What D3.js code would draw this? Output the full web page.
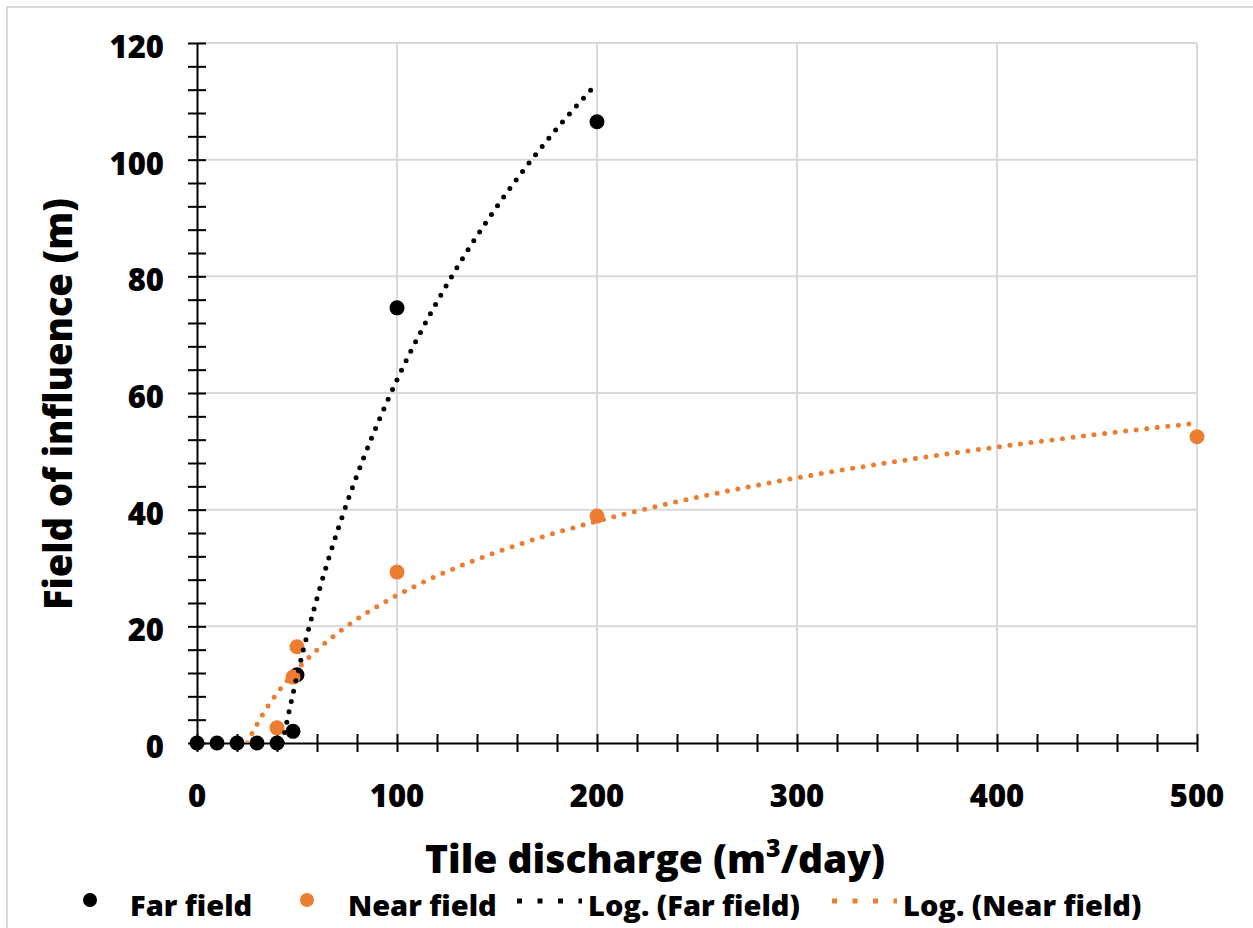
<!DOCTYPE html>
<html>
<head>
<meta charset="utf-8">
<script src="https://cdn.jsdelivr.net/npm/d3@7"></script>
<style>
  html, body { margin: 0; padding: 0; background: #fff; }
  svg { display: block; }
  text { font-family: "Open Sans", Lato, sans-serif; font-weight: 800; fill: #000; }
</style>
</head>
<body>
<svg id="chart" width="1253" height="928"></svg>
<script>
// ---- data ----
const farX  = [0, 10, 20, 30, 40, 48, 50, 100, 200];
const farY  = [0, 0, 0, 0, 0, 2.0, 11.7, 74.6, 106.5];
const nearX = [40, 48, 50, 100, 200, 500];
const nearY = [2.6, 11.3, 16.5, 29.3, 38.9, 52.5];
// logarithmic trendlines y = a*ln(x) + b (as fitted in the source chart)
const farTrend  = { a: 73.3, b: -275.3 };
const nearTrend = { a: 18.34, b: -59.15 };
const xTicks = [0, 100, 200, 300, 400, 500];
const yTicks = [0, 20, 40, 60, 80, 100, 120];
const legendLabels = ["Far field", "Near field", "Log. (Far field)", "Log. (Near field)"];
const xTitle = "Tile discharge (m";
const yTitle = "Field of influence (m)";

const farColor = "#000000", nearColor = "#ED7D31", gridColor = "#d9d9d9";

const svg = d3.select("#chart");
const x = d3.scaleLinear().domain([0, 500]).range([197, 1197]);
const y = d3.scaleLinear().domain([0, 120]).range([743, 43]);

// outer chart border
svg.append("rect").attr("x", 7).attr("y", 7).attr("width", 1260).attr("height", 940)
  .attr("fill", "none").attr("stroke", gridColor).attr("stroke-width", 2);

// gridlines
const grid = svg.append("g");
grid.selectAll("line.h").data(yTicks.filter(d => d > 0)).join("line")
  .attr("x1", x(0)).attr("x2", x(500)).attr("y1", d => y(d)).attr("y2", d => y(d))
  .attr("stroke", gridColor).attr("stroke-width", 2);
grid.selectAll("line.v").data(xTicks.filter(d => d > 0)).join("line")
  .attr("x1", d => x(d)).attr("x2", d => x(d)).attr("y1", y(0)).attr("y2", y(120))
  .attr("stroke", gridColor).attr("stroke-width", 2);

// axes
const xMinor = d3.range(0, 501, 20);
const yMinor = d3.range(0, 121, 4);
const xAxis = d3.axisBottom(x).tickValues(xMinor).tickSize(0).tickFormat("");
const yAxis = d3.axisLeft(y).tickValues(yMinor).tickSize(0).tickFormat("");
const gx = svg.append("g").attr("transform", `translate(0,${y(0)})`).call(xAxis);
gx.select(".domain").attr("stroke", "#000").attr("stroke-width", 2);
gx.selectAll(".tick line").attr("y1", -9).attr("y2", 9).attr("stroke", "#000").attr("stroke-width", 2);
const gy = svg.append("g").attr("transform", `translate(${x(0)},0)`).call(yAxis);
gy.select(".domain").attr("stroke", "#000").attr("stroke-width", 2);
gy.selectAll(".tick line").attr("x1", -9).attr("x2", 9).attr("stroke", "#000").attr("stroke-width", 2);

// tick labels
svg.append("g").selectAll("text").data(xTicks).join("text")
  .attr("x", d => x(d)).attr("y", 807).attr("text-anchor", "middle")
  .attr("font-size", 31).text(d => d);
svg.append("g").selectAll("text").data(yTicks).join("text")
  .attr("x", 164).attr("y", d => y(d) + 15).attr("text-anchor", "end")
  .attr("font-size", 31).text(d => d);

// axis titles
const xt = svg.append("text").attr("x", 655).attr("y", 873).attr("text-anchor", "middle").attr("font-size", 39);
xt.append("tspan").text(xTitle);
xt.append("tspan").attr("font-size", 25).attr("dy", -16).text("3");
xt.append("tspan").attr("dy", 16).text("/day)");
svg.append("text").attr("transform", "translate(72,404) rotate(-90)")
  .attr("text-anchor", "middle").attr("font-size", 38).text(yTitle);

// clip for plot area
svg.append("clipPath").attr("id", "plotclip").append("rect")
  .attr("x", x(0)).attr("y", y(120) - 10).attr("width", x(500) - x(0) + 10).attr("height", y(0) - y(120) + 10);

// points
function pts(xs, ys) { return xs.map((v, i) => [v, ys[i]]); }
svg.append("g").selectAll("circle").data(pts(farX, farY)).join("circle")
  .attr("cx", d => x(d[0])).attr("cy", d => y(d[1])).attr("r", 7.5).attr("fill", farColor);
svg.append("g").selectAll("circle").data(pts(nearX, nearY)).join("circle")
  .attr("cx", d => x(d[0])).attr("cy", d => y(d[1])).attr("r", 7.5).attr("fill", nearColor);

// trendlines
function trendPts(t, xmax) {
  const x0 = Math.exp(-t.b / t.a); // where the curve meets the x axis
  return d3.range(0, 201).map(i => { const xv = x0 + (xmax - x0) * i / 200; return [xv, t.a * Math.log(xv) + t.b]; });
}
const line = d3.line().x(d => x(d[0])).y(d => y(d[1]));
svg.append("path").attr("d", line(trendPts(nearTrend, d3.max(nearX))))
  .attr("fill", "none").attr("stroke", nearColor).attr("stroke-width", 5)
  .attr("stroke-linecap", "round").attr("stroke-dasharray", "0 10.6").attr("clip-path", "url(#plotclip)");
svg.append("path").attr("d", line(trendPts(farTrend, d3.max(farX))))
  .attr("fill", "none").attr("stroke", farColor).attr("stroke-width", 5)
  .attr("stroke-linecap", "round").attr("stroke-dasharray", "0 10.6").attr("clip-path", "url(#plotclip)");

// legend
const lg = svg.append("g");
const ly = 906;
lg.append("circle").attr("cx", 90).attr("cy", ly - 6).attr("r", 7).attr("fill", farColor);
lg.append("circle").attr("cx", 307).attr("cy", ly - 6).attr("r", 7).attr("fill", nearColor);
lg.append("line").attr("x1", 517).attr("x2", 582).attr("y1", ly - 5).attr("y2", ly - 5)
  .attr("stroke", farColor).attr("stroke-width", 5).attr("stroke-dasharray", "5 15.5");
lg.append("line").attr("x1", 832).attr("x2", 897).attr("y1", ly - 5).attr("y2", ly - 5)
  .attr("stroke", nearColor).attr("stroke-width", 5).attr("stroke-dasharray", "5 15.5");
const lx = [130, 348, 588, 903];
lg.selectAll("text").data(legendLabels).join("text")
  .attr("x", (d, i) => lx[i]).attr("y", ly + 10).attr("font-size", 29).text(d => d);
</script>
</body>
</html>
